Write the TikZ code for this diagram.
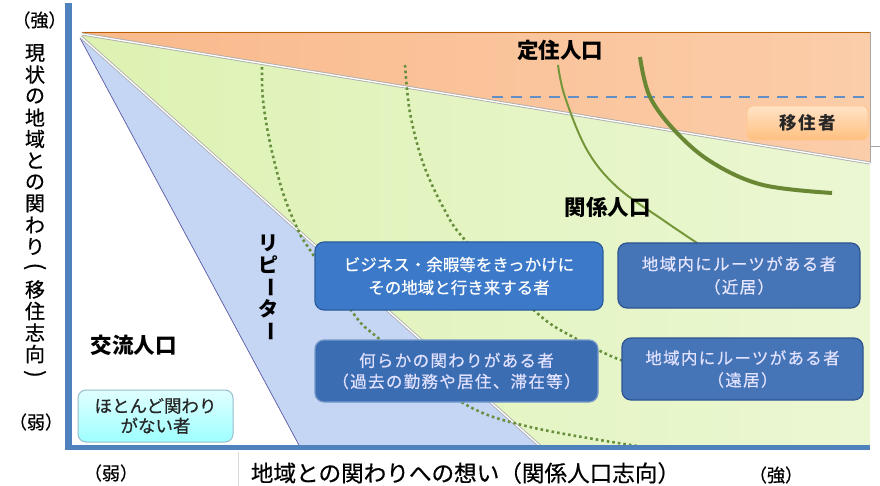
\documentclass[tikz,border=0pt]{standalone}
\usepackage{fontspec}
\newfontfamily\jp{Noto Sans CJK JP}
\newfontfamily\jpm{Noto Sans CJK JP}[FakeBold=0.6]
\usetikzlibrary{calc}
\definecolor{axisblue}{HTML}{4F81BD}
\definecolor{orL}{HTML}{F9B98B}
\definecolor{orR}{HTML}{FBCDA9}
\definecolor{grL}{HTML}{DDF2B2}
\definecolor{grR}{HTML}{EBF7D3}
\definecolor{blF}{HTML}{C5D5F4}
\definecolor{boxA}{HTML}{3C7AC9}
\definecolor{boxAb}{HTML}{2B5C9C}
\definecolor{boxB}{HTML}{3B6DB3}
\definecolor{boxBb}{HTML}{2E5590}
\definecolor{curveG}{HTML}{76963A}
\definecolor{dotG}{HTML}{66903C}
\newcommand\myvlp{\rotatebox[origin=c]{-90}{\fontsize{22}{22}\selectfont(}}
\newcommand\myvrp{\rotatebox[origin=c]{-90}{\fontsize{22}{22}\selectfont)}}
\newcommand\myvbar{\rotatebox[origin=c]{-90}{ー}}
\begin{document}
\begin{tikzpicture}[x=1pt,y=-1pt,
  sepline/.style={draw=gray!65, line width=3pt},
  sepin/.style={draw=white, line width=1.3pt},
  dotcurve/.style={draw=dotG, line width=2.6pt, dash pattern=on 2.6pt off 3pt},
  thincurve/.style={draw=curveG, line width=2pt},
  thickcurve/.style={draw=curveG!90!black, line width=4pt},
  bluebox/.style={rounded corners=9pt, line width=1.2pt, align=center, inner sep=0pt,
     font=\jpm\fontsize{16.5}{23}\selectfont},
  head/.style={font=\jp\bfseries\fontsize{21.5}{24}\selectfont, text=black, inner sep=0pt},
  axlab/.style={font=\jpm\fontsize{20}{22}\selectfont, text=black, inner sep=0pt},
  paren/.style={font=\jpm\fontsize{18}{20}\selectfont, text=black, inner sep=0pt}
]
\useasboundingbox (0,0) rectangle (880,486);
\fill[white] (0,0) rectangle (880,486);

% regions
\shade[left color=orL, right color=orR] (82,32) -- (870,32) -- (870,163) -- (82,34) -- cycle;
\draw[draw=orange!75!black, line width=0.8pt] (82,32) -- (870,32);
\draw[draw=gray!70, line width=0.6pt] (870,32) -- (870,163);
\shade[left color=grL, right color=grR] (82,35) -- (870,164) -- (870,447) -- (541,447) -- (81,37) -- cycle;
\fill[blF] (80,38) -- (541,447) -- (300,447) -- cycle;
\draw[draw=blue!30!gray, line width=0.7pt] (80,38) -- (300,447);
\draw[sepline] (82,34) -- (870,163);
\draw[sepin] (82,34) -- (870,163);
\draw[sepline] (81,37) -- (541,447);
\draw[sepin] (81,37) -- (541,447);
\draw[draw=gray!70, line width=0.6pt] (870,146) -- (880,146);
\draw[draw=gray!30, line width=0.6pt] (238,452) -- (238,486);

% dashed line
\draw[draw=axisblue!90!white, line width=2.3pt, dash pattern=on 11pt off 8pt] (492,97) -- (870,97);

% dotted curves
\draw[dotcurve] plot[smooth, tension=0.55] coordinates {(262,67) (263,100) (270,143) (283,193) (298,230) (308,247) (353,313) (377,337) (463,403) (530,427) (637,446)};
\draw[dotcurve] plot[smooth, tension=0.55] coordinates {(405,65) (410,113) (423,163) (443,207) (465,240) (537,313) (573,337) (613,357) (640,366)};

% solid curves
\draw[thincurve] plot[smooth, tension=0.6] coordinates {(558,65) (565,97) (587,150) (617,187) (663,220) (697,243) (710,252)};
\draw[thickcurve] plot[smooth, tension=0.6] coordinates {(640,57) (650,97) (677,133) (713,163) (763,185) (832,193)};

% boxes
\node[bluebox, draw=boxAb, fill=boxA, text=white, minimum width=288pt, minimum height=68pt] (biz) at (459,276)
  {ビジネス・余暇等をきっかけに\\その地域と行き来する者};
\node[bluebox, draw=boxB!70!white, fill=boxB, text=white!88!blue, minimum width=283pt, minimum height=62pt,
  font=\jpm\fontsize{16.5}{21}\selectfont\addfontfeature{LetterSpace=8}] (kaka) at (456.5,371)
  {何らかの関わりがある者\\（過去の勤務や居住、滞在等）};
\node[bluebox, draw=boxBb, fill=boxB!95!white, text=white!90!blue, minimum width=242pt, minimum height=65pt,
  font=\jpm\fontsize{16.5}{23}\selectfont\addfontfeature{LetterSpace=8}] (kinkyo) at (739,275.5)
  {地域内にルーツがある者\\（近居）};
\node[bluebox, draw=boxBb, fill=boxB!95!white, text=white!88!blue, minimum width=241pt, minimum height=62pt,
  font=\jpm\fontsize{16.5}{22}\selectfont\addfontfeature{LetterSpace=8}] (enkyo) at (742.5,369)
  {地域内にルーツがある者\\（遠居）};
\node[rounded corners=8pt, draw=cyan!40!gray!70, line width=1pt, top color=cyan!12, bottom color=cyan!38,
  minimum width=155pt, minimum height=52pt, inner sep=0pt, align=center, text=black!85,
  font=\jpm\fontsize{17.5}{20}\selectfont] (hoto) at (155.5,416) {ほとんど関わり\\がない者};
\node[rounded corners=6pt, draw=orange!45, line width=0.8pt, top color=orange!22, bottom color=orange!50,
  minimum width=121pt, minimum height=34pt, inner sep=0pt, text=black!85,
  font=\jp\bfseries\fontsize{17.5}{20}\selectfont\addfontfeature{LetterSpace=10}] (ijusha) at (807.5,123) {移住者};

% headings
\node[head] (teiju) at (560,50) {定住人口};
\node[head] (kankei) at (607.5,207) {関係人口};
\node[head] (koryu) at (133.5,345) {交流人口};
\foreach \ch [count=\i from 0] in {リ,ピ,\myvbar,タ,\myvbar}
  \node[head, font=\jp\bfseries\fontsize{20}{22}\selectfont] (rp\i) at (268, 243+\i*22) {\ch};

% axes labels
\foreach \ch [count=\i from 0] in {現,状,の,地,域,と,の,関,わ,り,\myvlp,移,住,志,向,\myvrp}
  \node[axlab] (yl\i) at (35, 53+\i*21.5) {\ch};
\node[axlab, font=\jpm\fontsize{22.6}{24}\selectfont] (xl) at (465.5,473) {地域との関わりへの想い（関係人口志向）};
\node[paren] (sy) at (39.5,20) {（強）};
\node[paren] (wy) at (36,422) {（弱）};
\node[paren] (wx) at (111,473) {（弱）};
\node[paren] (sx) at (776,475) {（強）};

% axes
\fill[axisblue] (65,3) rectangle (71.5,450);
\fill[axisblue] (65,444.5) rectangle (870,450);
\end{tikzpicture}
\end{document}
